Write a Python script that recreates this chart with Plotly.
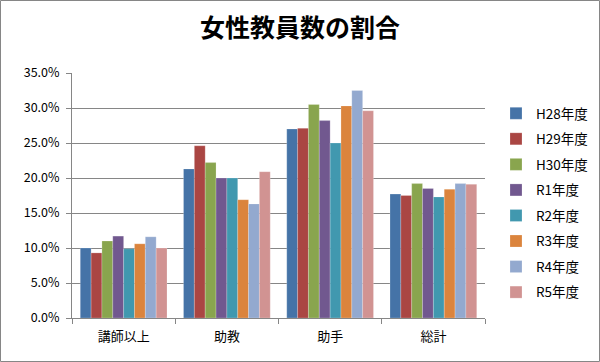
import plotly.graph_objects as go

categories = ["講師以上", "助教", "助手", "総計"]
series_names = ["H28年度", "H29年度", "H30年度", "R1年度", "R2年度", "R3年度", "R4年度", "R5年度"]
h28 = [0.100, 0.213, 0.270, 0.177]
h29 = [0.093, 0.246, 0.271, 0.175]
h30 = [0.110, 0.222, 0.305, 0.192]
r1 = [0.117, 0.200, 0.282, 0.185]
r2 = [0.099, 0.200, 0.250, 0.173]
r3 = [0.106, 0.169, 0.303, 0.184]
r4 = [0.116, 0.163, 0.325, 0.192]
r5 = [0.100, 0.209, 0.296, 0.191]
series_values = [h28, h29, h30, r1, r2, r3, r4, r5]
colors = ["#4573A7", "#AA4643", "#89A54E", "#71588F", "#4198AF", "#DB843D", "#93A9CF", "#D19392"]
ytick_vals = [0, 0.05, 0.10, 0.15, 0.20, 0.25, 0.30, 0.35]

FONT = "Noto Sans CJK JP"

fig = go.Figure()
for i, (name, vals) in enumerate(zip(series_names, series_values)):
    fig.add_trace(go.Bar(
        x=categories, y=vals, name=name, legendgroup=name,
        marker=dict(color=colors[i], line=dict(color="rgba(255,255,255,0.35)", width=0.6)),
    ))

L, R, T, B = 72, 115, 73, 44
W, H = 600, 362
pw, ph = W - L - R, H - T - B

fig.update_layout(
    width=W, height=H,
    margin=dict(l=L, r=R, t=T, b=B, autoexpand=False),
    paper_bgcolor="white", plot_bgcolor="white",
    barmode="group", bargap=0.16, bargroupgap=0,
    font=dict(family=FONT, size=12, color="#000000"),
    title=dict(text="<b>女性教員数の割合</b>", x=0.5, xref="container", xanchor="center",
               y=1 - 28 / H, yref="container", yanchor="middle",
               font=dict(family=FONT, size=25, color="#000000")),
    legend=dict(x=496 / W, xref="container", xanchor="left",
                y=1 - 203 / H, yref="container", yanchor="middle",
                font=dict(family=FONT, size=13.5), tracegroupgap=5, traceorder="grouped",
                itemwidth=30, bgcolor="rgba(0,0,0,0)", maxheight=350),
    xaxis=dict(showgrid=False, showline=True, linecolor="#868686", linewidth=1,
               ticks="outside", tickson="boundaries", ticklen=5, tickcolor="#868686",
               tickfont=dict(family=FONT, size=13), automargin=False,
               ticklabelstandoff=6),
    yaxis=dict(range=[0, 0.35], tickvals=ytick_vals, tickformat=".1%",
               showgrid=True, gridcolor="#868686", gridwidth=1,
               showline=True, linecolor="#868686", linewidth=1,
               ticks="outside", ticklen=5, tickcolor="#868686", zeroline=False,
               tickfont=dict(family=FONT, size=12.5), automargin=False,
               ticklabelstandoff=4),
    shapes=[dict(type="rect", xref="paper", yref="paper",
                 x0=(0.5 - L) / pw, x1=(W - 0.5 - L) / pw,
                 y0=(T + ph - (H - 0.5)) / ph, y1=(T + ph - 0.5) / ph,
                 line=dict(color="#868686", width=1), layer="below")],
)

fig.write_html("out.html", config={"displayModeBar": False},
               post_script="document.body.style.margin='0';")
